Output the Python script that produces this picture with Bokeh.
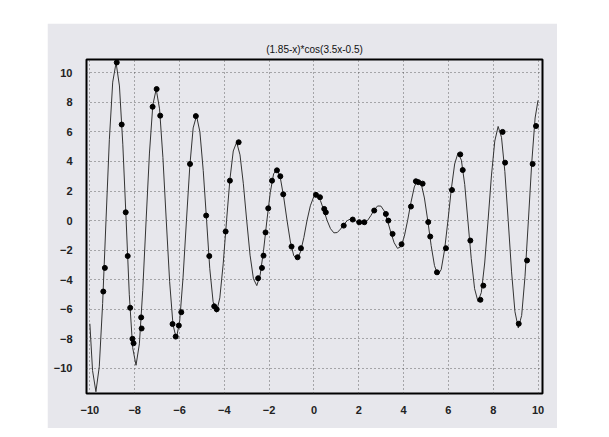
from bokeh.plotting import figure
from bokeh.models import Range1d, FixedTicker
from bokeh.embed import file_html
from bokeh.resources import INLINE

# Curve points
curve_x = [-10.0, -9.88, -9.73, -9.58, -9.43, -9.28,
           -9.13, -8.98, -8.83, -8.68, -8.53, -8.38,
           -8.24, -8.09, -7.94, -7.79, -7.64, -7.49,
           -7.34, -7.19, -7.04, -6.89, -6.74, -6.59,
           -6.44, -6.29, -6.14, -5.99, -5.84, -5.69,
           -5.54, -5.39, -5.24, -5.09, -4.94, -4.79,
           -4.65, -4.50, -4.35, -4.20, -4.05, -3.90,
           -3.75, -3.60, -3.45, -3.30, -3.15, -3.00,
           -2.85, -2.70, -2.55, -2.40, -2.25, -2.10,
           -1.95, -1.80, -1.65, -1.50, -1.35, -1.20,
           -1.05, -0.90, -0.75, -0.60, -0.45, -0.31,
           -0.16, -0.01, 0.14, 0.29, 0.44, 0.59,
           0.74, 0.89, 1.04, 1.19, 1.34, 1.49,
           1.64, 1.79, 1.94, 2.09, 2.24, 2.39,
           2.54, 2.69, 2.84, 2.99, 3.14, 3.28,
           3.43, 3.58, 3.73, 3.88, 4.03, 4.18,
           4.33, 4.48, 4.63, 4.78, 4.93, 5.08,
           5.23, 5.38, 5.53, 5.68, 5.83, 5.98,
           6.13, 6.28, 6.43, 6.58, 6.73, 6.87,
           7.02, 7.17, 7.32, 7.47, 7.62, 7.77,
           7.92, 8.07, 8.22, 8.37, 8.52, 8.67,
           8.82, 8.97, 9.12, 9.27, 9.42, 9.57,
           9.72, 9.87, 10.0]
curve_y = [-6.98, -10.15, -11.58, -9.89, -5.61, 0.0,
           5.47, 9.37, 10.68, 9.11, 5.17, 0.0,
           -5.02, -8.60, -9.79, -8.34, -4.72, 0.0,
           4.57, 7.82, 8.89, 7.56, 4.27, 0.0,
           -4.13, -7.04, -7.99, -6.78, -3.83, 0.0,
           3.68, 6.27, 7.09, 6.01, 3.38, 0.0,
           -3.23, -5.49, -6.20, -5.23, -2.93, 0.0,
           2.79, 4.71, 5.30, 4.45, 2.49, 0.0,
           -2.34, -3.94, -4.40, -3.68, -2.04, 0.0,
           1.89, 3.16, 3.50, 2.90, 1.59, 0.0,
           -1.45, -2.38, -2.61, -2.12, -1.15, 0.0,
           1.00, 1.61, 1.71, 1.35, 0.70, 0.0,
           -0.55, -0.83, -0.81, -0.57, -0.25, 0.0,
           0.11, 0.05, -0.09, -0.21, -0.19, 0.0,
           0.34, 0.72, 0.99, 0.98, 0.64, 0.0,
           -0.79, -1.50, -1.88, -1.76, -1.09, 0.0,
           1.23, 2.28, 2.78, 2.54, 1.53, 0.0,
           -1.68, -3.05, -3.68, -3.31, -1.98, 0.0,
           2.13, 3.83, 4.58, 4.09, 2.43, 0.0,
           -2.57, -4.61, -5.47, -4.87, -2.87, 0.0,
           3.02, 5.38, 6.37, 5.64, 3.32, 0.0,
           -3.47, -6.16, -7.27, -6.42, -3.77, 0.0,
           3.91, 6.94, 8.14]

# Sample dots
dots_x = [-9.40, -9.33, -8.80, -8.58, -8.40, -8.31, -8.20, -8.10, -8.05,
          -7.71, -7.69, -7.20, -7.02, -6.86, -6.31, -6.17, -6.03, -5.92,
          -5.53, -5.27, -4.81, -4.67, -4.45, -4.34, -3.94, -3.75, -3.36,
          -2.49, -2.32, -2.25, -2.16, -2.04, -1.87, -1.65, -1.50, -1.37,
          -1.00, -0.73, -0.58, 0.09, 0.27, 0.46, 0.53, 1.33, 1.73, 2.02,
          2.25, 2.69, 3.21, 3.32, 3.51, 3.91, 4.33, 4.55, 4.66, 4.85,
          5.10, 5.19, 5.49, 5.89, 6.16, 6.53, 6.64, 6.98, 7.43, 7.56,
          8.42, 8.53, 9.14, 9.51, 9.76, 9.91]
dots_y = [-4.8, -3.2, 10.7, 6.5, 0.56, -2.4, -5.9, -8.0, -8.3,
          -6.55, -7.3, 7.7, 8.9, 7.1, -7.0, -7.85, -7.1, -6.2,
          3.83, 7.07, 0.34, -2.4, -5.8, -6.0, -0.74, 2.7, 5.3,
          -3.9, -3.2, -2.37, -0.8, 0.83, 2.7, 3.4, 3.0, 1.78,
          -1.76, -2.48, -1.87, 1.74, 1.58, 0.79, 0.56, -0.34, 0.07, -0.11,
          -0.11, 0.68, 0.45, 0.0, -0.9, -1.6, 0.95, 2.66, 2.6, 2.5,
          -0.1, -1.08, -3.5, -1.87, 2.07, 4.48, 3.42, -1.35, -5.36, -4.4,
          6.0, 3.92, -6.98, -2.7, 3.83, 6.4]

title_text = "(1.85-x)*cos(3.5x-0.5)"
x_ticks = [-10, -8, -6, -4, -2, 0, 2, 4, 6, 8, 10]
y_ticks = [-10, -8, -6, -4, -2, 0, 2, 4, 6, 8, 10]

bg = "#e7e7ec"
p = figure(width=510, height=405, output_backend="svg", toolbar_location=None,
           x_range=Range1d(-10.15, 10.2), y_range=Range1d(-11.7, 10.9),
           min_border_left=39, min_border_right=15, min_border_top=36,
           min_border_bottom=35, margin=(23, 0, 0, 47),
           background_fill_color=bg, border_fill_color=bg)

p.title.text = title_text
p.title.align = "center"
p.title.text_font = "Liberation Sans"
p.title.text_font_size = "10px"
p.title.text_font_style = "normal"
p.title.text_color = "#111111"

p.outline_line_color = "black"
p.outline_line_width = 2
p.outline_line_alpha = 1.0

for ax in (p.xaxis, p.yaxis):
    ax.axis_line_color = None
    ax.major_tick_line_color = None
    ax.minor_tick_line_color = None
    ax.major_label_text_font = "Liberation Sans"
    ax.major_label_text_font_size = "11px"
    ax.major_label_text_font_style = "bold"
    ax.major_label_text_color = "#222222"
p.xaxis.ticker = FixedTicker(ticks=x_ticks)
p.yaxis.ticker = FixedTicker(ticks=y_ticks)
p.xaxis.major_label_standoff = 6
p.yaxis.major_label_standoff = 8

for g in (p.xgrid, p.ygrid):
    g.grid_line_color = "#444444"
    g.grid_line_dash = "1 3"
    g.grid_line_width = 1
    g.grid_line_alpha = 0.8

p.line(curve_x, curve_y, line_color="#333333", line_width=1)
p.scatter(dots_x, dots_y, size=5, fill_color="black", line_color="black")

open("out.html", "w").write(file_html(p, INLINE))
